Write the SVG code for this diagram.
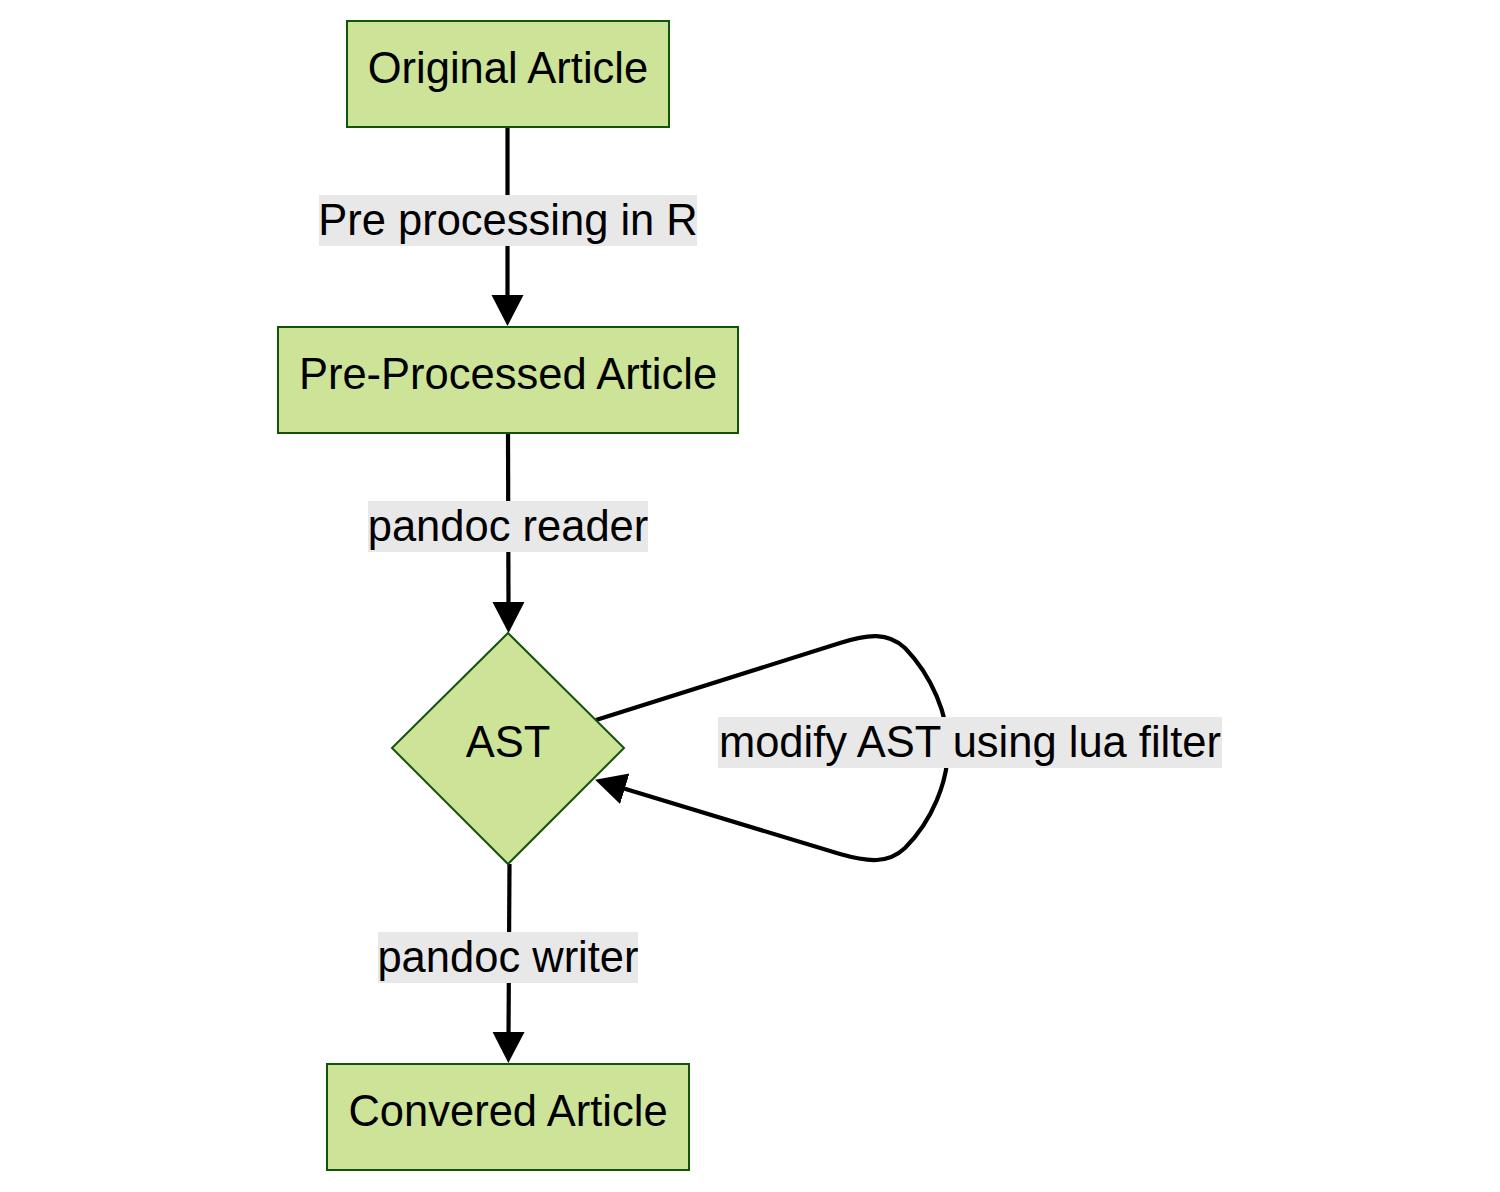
<svg xmlns="http://www.w3.org/2000/svg" width="1500" height="1192" viewBox="0 0 1500 1192">
<style>
.node{fill:#cde498;stroke:#13540c;stroke-width:2}
.t{font-family:"Liberation Sans",Arial,sans-serif;font-size:43.5px;fill:#000;text-anchor:middle}
.edge{fill:none;stroke:#000;stroke-width:4.2}
.lbg{fill:#e8e8e8}
</style>
<defs>
<marker id="arr" markerUnits="userSpaceOnUse" markerWidth="32" markerHeight="34" viewBox="0 0 32 34" refX="6" refY="17" orient="auto">
<path d="M0,1 L31,17 L0,33 z" fill="#000"/>
</marker>
</defs>
<rect width="1500" height="1192" fill="#fff"/>
<g id="connectors">
<path class="edge" d="M507.5,127 L507.5,301" marker-end="url(#arr)"/>
<path class="edge" d="M508,433 L508.5,608" marker-end="url(#arr)"/>
<path class="edge" d="M509.5,864 L508.5,1038" marker-end="url(#arr)"/>
<path class="edge" d="M596,720 L840,643 C868,634 888,632 905,648 C932,676 948,715 948,748 C948,782 932,821 905,848 C888,864 868,862 840,854 L619,787" marker-end="url(#arr)"/>
<rect class="lbg" x="319" y="195" width="378" height="51"/>
<text class="t" x="508" y="235">Pre processing in R</text>
<rect class="lbg" x="368" y="501" width="280" height="51"/>
<text class="t" x="508" y="541">pandoc reader</text>
<rect class="lbg" x="378" y="932" width="260" height="51"/>
<text class="t" x="508" y="972">pandoc writer</text>
<rect class="lbg" x="718" y="717" width="504" height="51"/>
<text class="t" x="970" y="757">modify AST using lua filter</text>
</g>
<g id="original">
<rect class="node" x="347" y="21" width="322" height="106"/>
<text class="t" x="508" y="83">Original Article</text>
</g>
<g id="preprocessed">
<rect class="node" x="278" y="327" width="460" height="106"/>
<text class="t" x="508" y="389">Pre-Processed Article</text>
</g>
<g id="ast">
<polygon class="node" points="508,633 624,748 508,864 392,748"/>
<text class="t" x="508" y="757">AST</text>
</g>
<g id="converted">
<rect class="node" x="327" y="1064" width="362" height="106"/>
<text class="t" x="508" y="1126">Convered Article</text>
</g>
</svg>
